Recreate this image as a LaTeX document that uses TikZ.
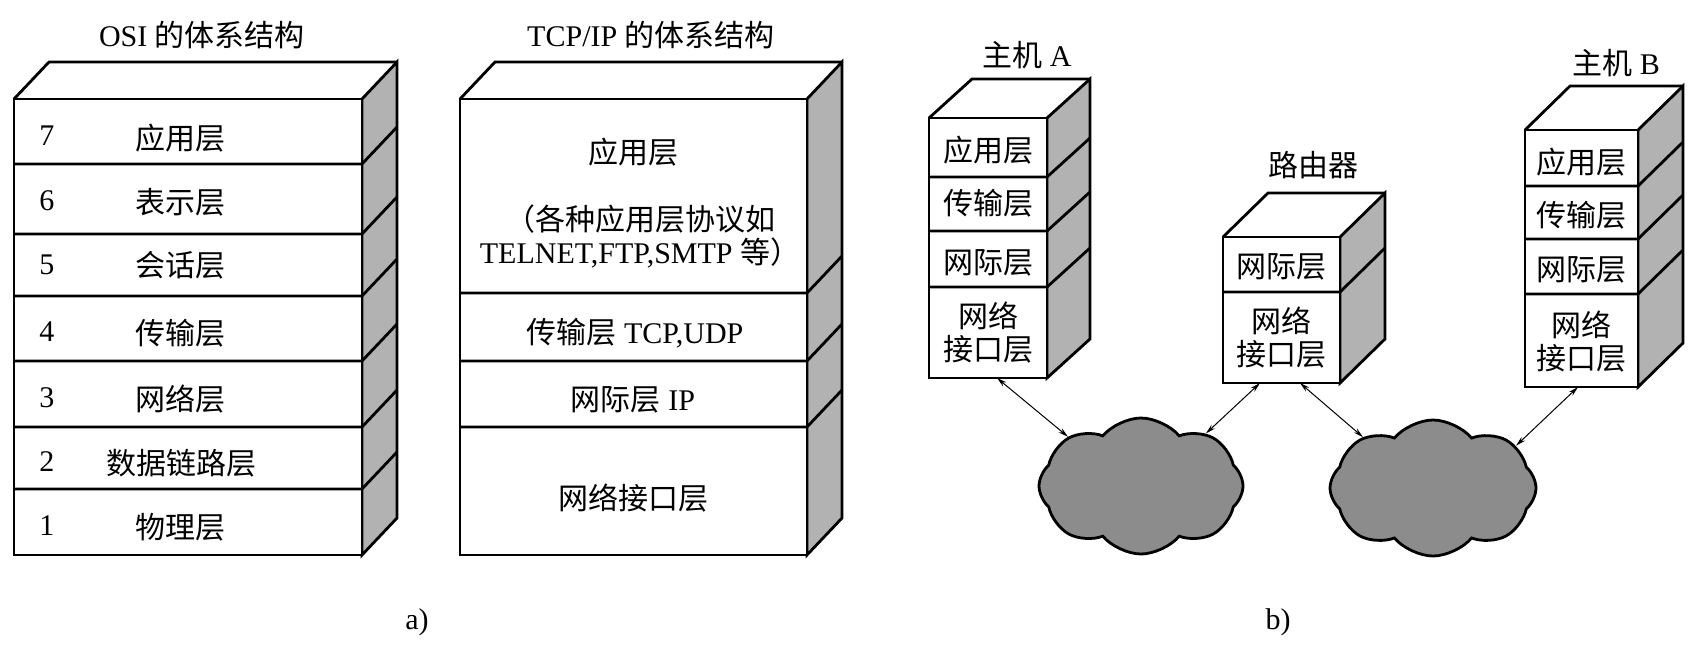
\documentclass[tikz,border=0pt]{standalone}
\usepackage{fontspec}
\setmainfont{Liberation Serif}
\newfontfamily\cjk{Noto Sans CJK SC}
\newcommand{\zh}[1]{{\cjk #1}}
\usetikzlibrary{arrows.meta,shapes.symbols}

\tikzset{
  frame/.style={line width=1.4pt, line join=miter},
  sideface/.style={fill=black!30},
  label/.style={font=\fontsize{15}{16.5}\selectfont, inner sep=0pt, align=center},
  net/.style={cloud, cloud puffs=8, cloud puff arc=100, draw, line width=1.4pt, fill=black!45, inner sep=0pt},
  link/.style={{Stealth[length=5pt,width=2.6pt]}-{Stealth[length=5pt,width=2.6pt]}, line width=0.5pt}
}

% left, top, right, bottom, dx, dy
\newcommand{\layerbox}[6]{%
  \filldraw[frame, sideface] (#3,#2) -- (#3+#5,#2-#6) -- (#3+#5,#4-#6) -- (#3,#4) -- cycle;
  \draw[frame] (#1,#2) -- (#1+#5,#2-#6) -- (#3+#5,#2-#6);
  \draw[frame, fill=white] (#1,#2) rectangle (#3,#4);
}
% left, right, y, dx, dy
\newcommand{\layerline}[5]{%
  \draw[frame] (#1,#3) -- (#2,#3) -- ++(#4,-#5);
}

\begin{document}
\begin{tikzpicture}[x=0.5pt, y=-0.5pt]
\useasboundingbox (0,0) rectangle (1700,654);

% a) OSI
\layerbox{14}{99}{362}{555}{35}{37}
\layerline{14}{362}{164}{35}{37}
\layerline{14}{362}{234}{35}{37}
\layerline{14}{362}{296}{35}{37}
\layerline{14}{362}{361}{35}{37}
\layerline{14}{362}{427}{35}{37}
\layerline{14}{362}{489}{35}{37}

\node[label] (osititle) at (202,35) {OSI \zh{的体系结构}};
\node[label] (osi7n) at (47,136) {7};
\node[label] (osi6n) at (47,201) {6};
\node[label] (osi5n) at (47,265) {5};
\node[label] (osi4n) at (47,332) {4};
\node[label] (osi3n) at (47,398) {3};
\node[label] (osi2n) at (47,462) {2};
\node[label] (osi1n) at (47,526) {1};
\node[label] (osi7) at (180,138) {\zh{应用层}};
\node[label] (osi6) at (180,202) {\zh{表示层}};
\node[label] (osi5) at (180,265) {\zh{会话层}};
\node[label] (osi4) at (180,333) {\zh{传输层}};
\node[label] (osi3) at (180,399) {\zh{网络层}};
\node[label] (osi2) at (181,463) {\zh{数据链路层}};
\node[label] (osi1) at (180,527) {\zh{物理层}};

% a) TCP/IP
\layerbox{460}{99}{807}{555}{35}{37}
\layerline{460}{807}{293}{35}{37}
\layerline{460}{807}{361}{35}{37}
\layerline{460}{807}{427}{35}{37}

\node[label] (tcptitle) at (651,35) {TCP/IP \zh{的体系结构}};
\node[label] (tcpapp) at (633,152) {\zh{应用层}};
\node[label] (tcpappnote) at (640,236) {\zh{（各种应用层协议如}\\TELNET,FTP,SMTP \zh{等）}};
\node[label] (tcptrans) at (635,333) {\zh{传输层} TCP,UDP};
\node[label] (tcpip) at (633,400) {\zh{网际层} IP};
\node[label] (tcpnet) at (633,498) {\zh{网络接口层}};

\node[label] (capa) at (417,622) {a)};

% b) host A
\layerbox{929}{118}{1047}{378}{43}{39}
\layerline{929}{1047}{177}{43}{39}
\layerline{929}{1047}{231}{43}{39}
\layerline{929}{1047}{287}{43}{39}
\node[label] (hostA) at (1027,55) {\zh{主机} A};
\node[label] (hostAapp) at (988,150) {\zh{应用层}};
\node[label] (hostAtrans) at (988,203) {\zh{传输层}};
\node[label] (hostAip) at (988,263) {\zh{网际层}};
\node[label] (hostAnet) at (988,333) {\zh{网络}\\\zh{接口层}};

% b) router
\layerbox{1223}{237}{1340}{383}{45}{44}
\layerline{1223}{1340}{292}{45}{44}
\node[label] (router) at (1313,165) {\zh{路由器}};
\node[label] (routerip) at (1281,267) {\zh{网际层}};
\node[label] (routernet) at (1281,338) {\zh{网络}\\\zh{接口层}};

% b) host B
\layerbox{1525}{130}{1638}{387}{45}{44}
\layerline{1525}{1638}{186}{45}{44}
\layerline{1525}{1638}{239}{45}{44}
\layerline{1525}{1638}{294}{45}{44}
\node[label] (hostB) at (1616,63) {\zh{主机} B};
\node[label] (hostBapp) at (1581,162) {\zh{应用层}};
\node[label] (hostBtrans) at (1581,215) {\zh{传输层}};
\node[label] (hostBip) at (1581,270) {\zh{网际层}};
\node[label] (hostBnet) at (1581,342) {\zh{网络}\\\zh{接口层}};

% networks
\node[net, minimum width=102pt, minimum height=68pt, aspect=1.5] (net1) at (1141,486) {};
\node[net, minimum width=103pt, minimum height=68pt, aspect=1.5] (net2) at (1433,488) {};

\coordinate (hostAport) at (997,378);
\coordinate (routerportL) at (1260,383);
\coordinate (routerportR) at (1300,383);
\coordinate (hostBport) at (1578,387);

\draw[link] (hostAport) -- (net1.146);
\draw[link] (net1.39) -- (routerportL);
\draw[link] (routerportR) -- (net2.144);
\draw[link] (net2.27) -- (hostBport);

\node[label] (capb) at (1278,622) {b)};
\end{tikzpicture}
\end{document}
